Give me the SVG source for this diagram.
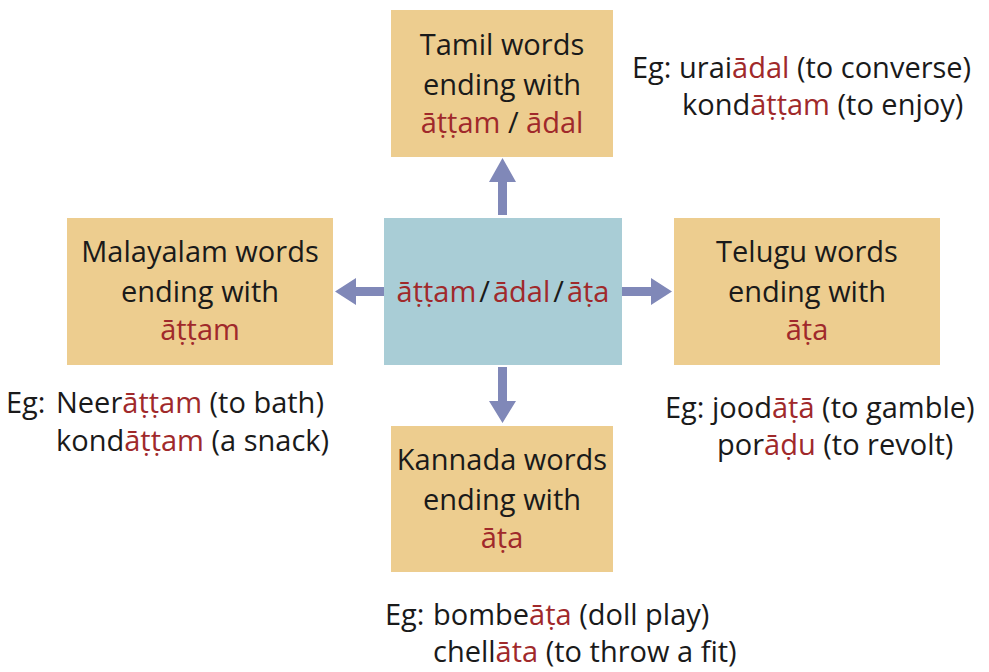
<svg xmlns="http://www.w3.org/2000/svg" width="989" height="672" viewBox="0 0 989 672">
<defs>
<style>
.box{fill:#EDCD8F}
.ctr{fill:#A9CDD6}
text{font-family:"Open Sans","Noto Sans","Liberation Sans",sans-serif;font-size:29px;fill:#1a1a1a}
.m{text-anchor:middle}
.r{fill:#A0292B}
.arr{fill:#8088B8}
</style>
</defs>
<rect width="989" height="672" fill="#ffffff"/>
<g id="connectors">
<polygon class="arr" points="498,215 507,215 507,182 516,182 502.5,158 489,182 498,182"/>
<polygon class="arr" points="498,367 507,367 507,401 516,401 502.5,423 489,401 498,401"/>
<polygon class="arr" points="384,287 384,296 356,296 356,305 335,291.5 356,278 356,287"/>
<polygon class="arr" points="622,287 622,296 651,296 651,305 672,291.5 651,278 651,287"/>
</g>
<g id="center">
<rect class="ctr" x="384" y="218" width="238" height="147"/>
<text class="m" x="503" y="302"><tspan class="r">āṭṭam</tspan><tspan dx="3">/</tspan><tspan class="r" dx="3">ādal</tspan><tspan dx="3">/</tspan><tspan class="r" dx="3">āṭa</tspan></text>
</g>
<g id="tamil">
<rect class="box" x="391" y="10" width="222" height="147"/>
<text class="m" x="502" y="55">Tamil words</text>
<text class="m" x="502" y="95">ending with</text>
<text class="m" x="502" y="133"><tspan class="r">āṭṭam</tspan> / <tspan class="r">ādal</tspan></text>
</g>
<g id="malayalam">
<rect class="box" x="67" y="218" width="266" height="147"/>
<text class="m" x="200" y="262">Malayalam words</text>
<text class="m" x="200" y="302">ending with</text>
<text class="m r" x="200" y="340">āṭṭam</text>
</g>
<g id="telugu">
<rect class="box" x="674" y="218" width="266" height="147"/>
<text class="m" x="807" y="262">Telugu words</text>
<text class="m" x="807" y="302">ending with</text>
<text class="m r" x="807" y="340">āṭa</text>
</g>
<g id="kannada">
<rect class="box" x="391" y="426" width="222" height="146"/>
<text class="m" x="502" y="470">Kannada words</text>
<text class="m" x="502" y="510">ending with</text>
<text class="m r" x="502" y="548">āṭa</text>
</g>
<g id="tamil-eg">
<text x="632" y="78">Eg:<tspan x="679">urai</tspan><tspan class="r">ādal</tspan> (to converse)</text>
<text x="682" y="115">kond<tspan class="r">āṭṭam</tspan> (to enjoy)</text>
</g>
<g id="malayalam-eg">
<text x="6" y="413">Eg:<tspan x="56">Neer</tspan><tspan class="r">āṭṭam</tspan> (to bath)</text>
<text x="56" y="451">kond<tspan class="r">āṭṭam</tspan> (a snack)</text>
</g>
<g id="telugu-eg">
<text x="665" y="418">Eg:<tspan x="712">jood</tspan><tspan class="r">āṭā</tspan> (to gamble)</text>
<text x="717" y="455">por<tspan class="r">āḍu</tspan> (to revolt)</text>
</g>
<g id="kannada-eg">
<text x="385" y="625">Eg:<tspan x="433">bombe</tspan><tspan class="r">āṭa</tspan> (doll play)</text>
<text x="433" y="662">chell<tspan class="r">āta</tspan> (to throw a fit)</text>
</g>
</svg>
